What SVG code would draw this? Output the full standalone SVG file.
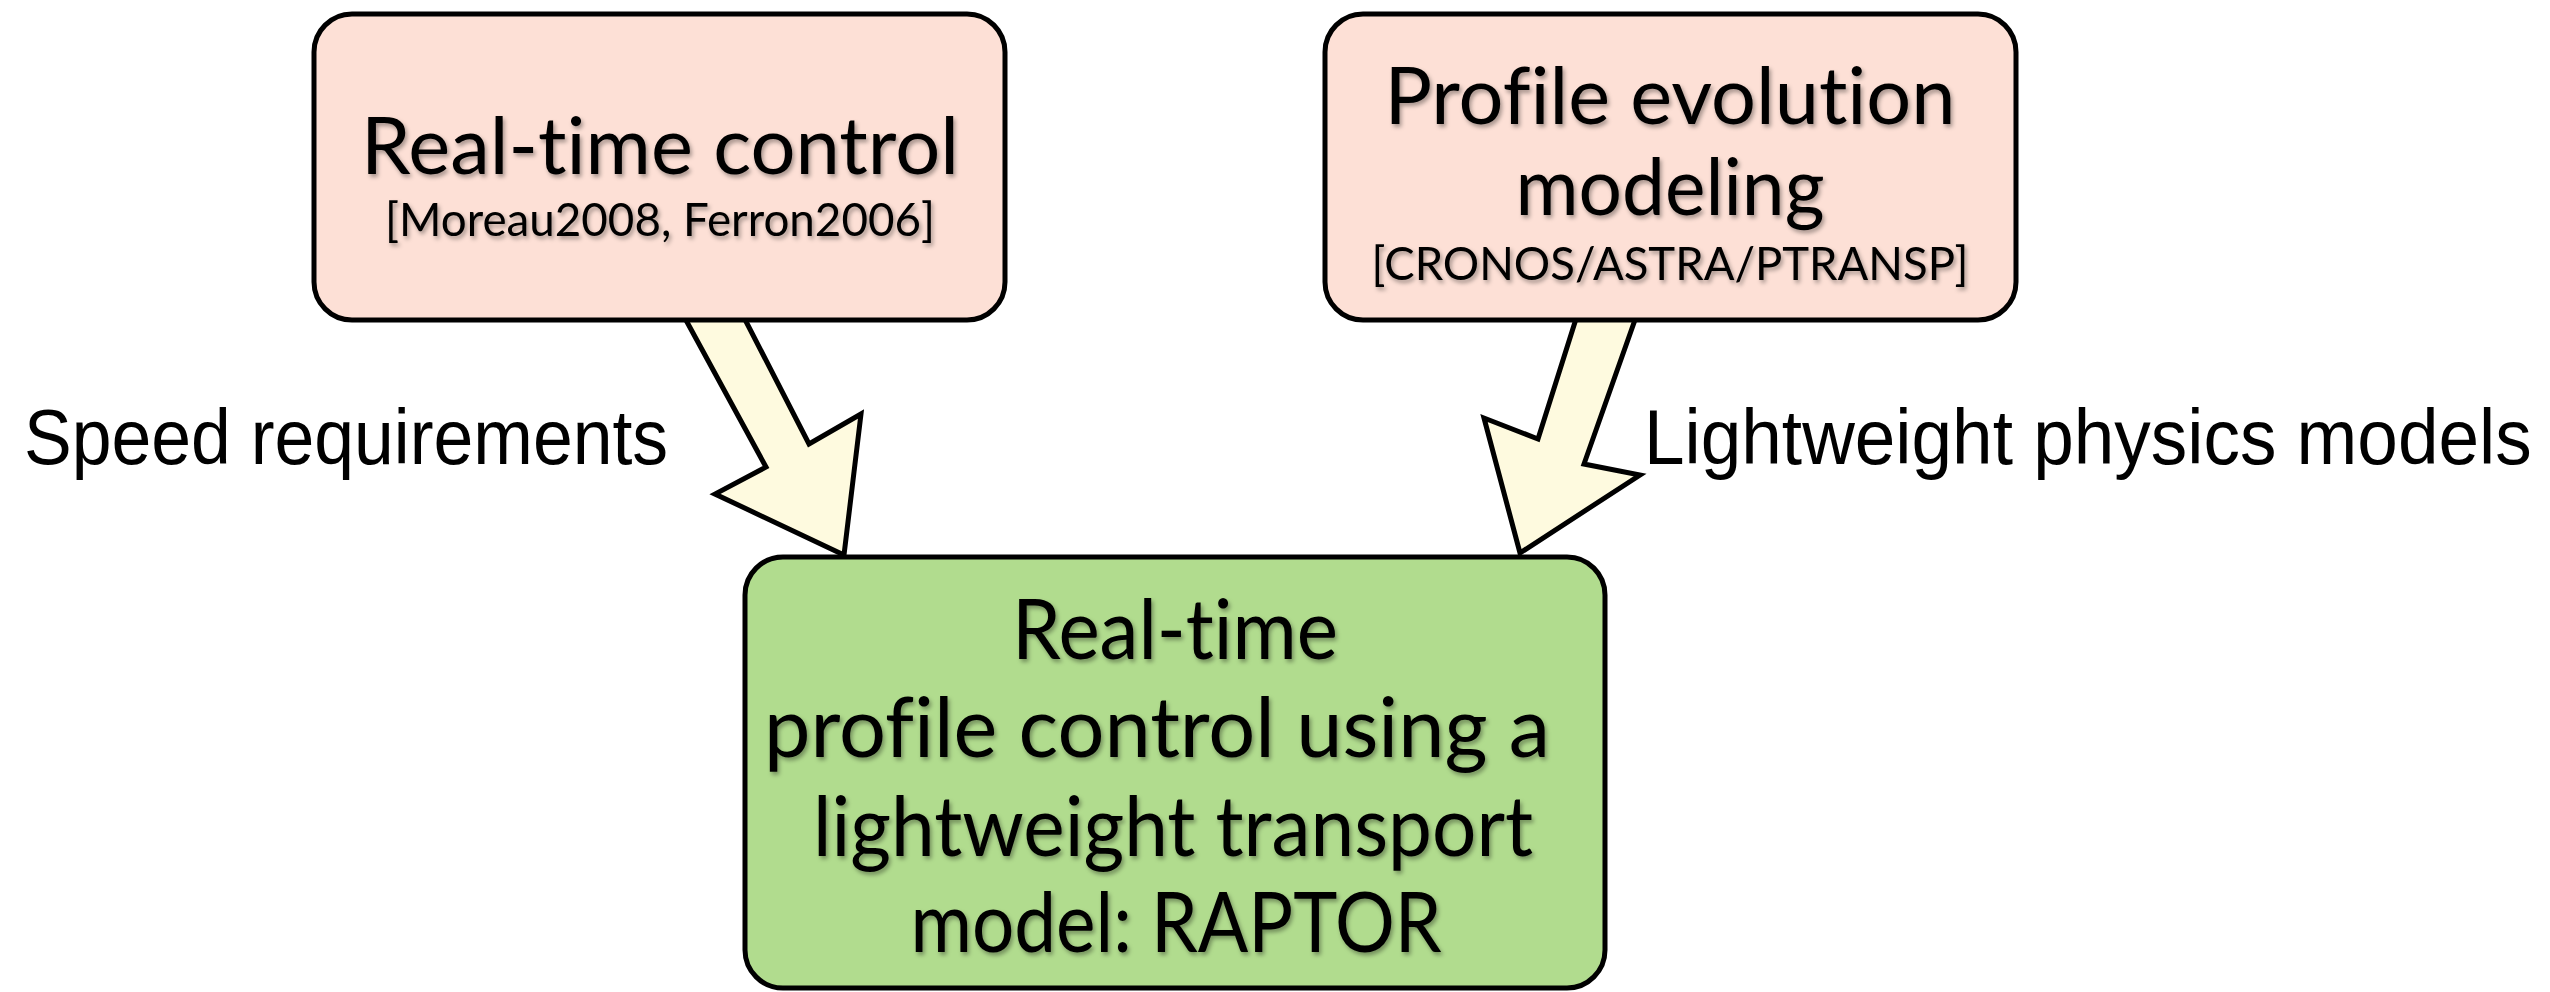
<svg xmlns="http://www.w3.org/2000/svg" width="2550" height="992" viewBox="0 0 2550 992">
<style>
.box{stroke:#000;stroke-width:5}
.pink{fill:#FDE0D6}
.green{fill:#B1DC8E}
.arrow{fill:#FEFADF;stroke:#000;stroke-width:5;stroke-linejoin:miter}
.t{font-family:Lato,"Open Sans","Liberation Sans",sans-serif;fill:#000;text-anchor:middle;filter:url(#sh);font-variant-ligatures:none}
.big{font-size:80px}
.big3{font-size:84px}
.small{font-size:46px}
.lbl{font-family:"Liberation Sans",Arial,sans-serif;font-size:78px;fill:#000}
</style>
<defs>
<filter id="sh" x="-5%" y="-20%" width="110%" height="150%">
<feDropShadow dx="2" dy="3" stdDeviation="2" flood-color="#000" flood-opacity="0.35"/>
</filter>
</defs>
<rect width="2550" height="992" fill="#fff"/>
<g id="connectors">
<polygon class="arrow" points="675,300 735,300 809,444 861,414 844,555 715,494 766,467"/>
<polygon class="arrow" points="1582,300 1642,300 1584,464 1640,475 1520,553 1484,418 1538,439"/>
</g>
<g id="node-realtime-control">
<rect class="box pink" x="314" y="14" width="691" height="306" rx="38"/>
<text class="t big" x="660" y="174" textLength="598" lengthAdjust="spacingAndGlyphs">Real-time control</text>
<text class="t small" x="660" y="236" textLength="550" lengthAdjust="spacingAndGlyphs">[Moreau2008, Ferron2006]</text>
</g>
<g id="node-profile-evolution">
<rect class="box pink" x="1325" y="14" width="691" height="306" rx="38"/>
<text class="t big" x="1670" y="124" textLength="571" lengthAdjust="spacingAndGlyphs">Profile evolution</text>
<text class="t big" x="1670" y="215" textLength="309" lengthAdjust="spacingAndGlyphs">modeling</text>
<text class="t small" x="1670" y="280" textLength="597" lengthAdjust="spacingAndGlyphs">[CRONOS/ASTRA/PTRANSP]</text>
</g>
<g id="node-raptor">
<rect class="box green" x="745" y="557" width="860" height="431" rx="38"/>
<text class="t big3" x="1175" y="659" textLength="326" lengthAdjust="spacingAndGlyphs">Real-time</text>
<text class="t big3" x="1157" y="757" textLength="786" lengthAdjust="spacingAndGlyphs">profile control using a</text>
<text class="t big3" x="1173" y="856" textLength="720" lengthAdjust="spacingAndGlyphs">lightweight transport</text>
<text class="t big3" x="1176" y="952" textLength="531" lengthAdjust="spacingAndGlyphs">model: RAPTOR</text>
</g>
<g id="labels">
<text class="lbl" transform="translate(24,464) scale(0.917,1)" x="0" y="0">Speed requirements</text>
<text class="lbl" transform="translate(1644,464) scale(0.935,1)" x="0" y="0">Lightweight physics models</text>
</g>
</svg>
